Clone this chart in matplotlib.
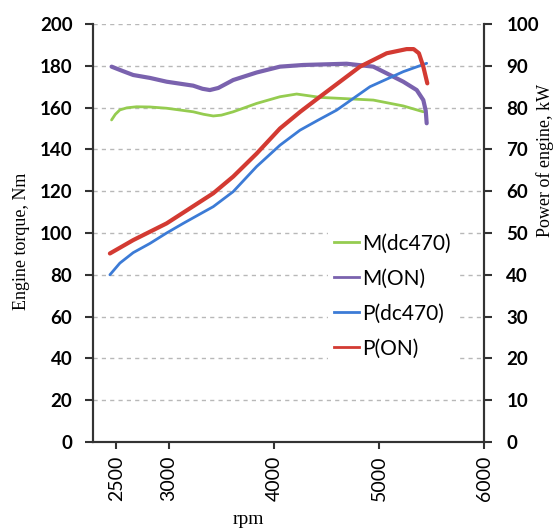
import matplotlib
matplotlib.use("Agg")
import matplotlib.pyplot as plt
from matplotlib.lines import Line2D

# ---- data ----
rpm_m_dc = [2454, 2490, 2533, 2600, 2692, 2820, 2978, 3231, 3330, 3422, 3500, 3612, 3835, 4057, 4216, 4438, 4755, 4946, 5231, 5422]
m_dc470 = [154.1, 156.8, 158.9, 159.9, 160.4, 160.3, 159.7, 158.0, 156.8, 156.0, 156.4, 158.0, 162.0, 165.2, 166.5, 164.9, 164.1, 163.6, 160.8, 158.0]

rpm_m_on = [2454, 2560, 2660, 2820, 2978, 3231, 3320, 3390, 3470, 3612, 3835, 4057, 4279, 4692, 4946, 5073, 5231, 5359, 5422, 5445, 5454]
m_on = [179.6, 177.5, 175.6, 174.2, 172.4, 170.5, 169.0, 168.4, 169.4, 173.2, 176.8, 179.6, 180.4, 181.0, 179.6, 176.4, 172.4, 168.4, 163.6, 158.5, 152.5]

rpm_p_dc = [2438, 2533, 2660, 2819, 2978, 3136, 3300, 3422, 3612, 3835, 4057, 4248, 4420, 4597, 4914, 5231, 5454]
p_dc470 = [40.0, 42.8, 45.3, 47.5, 50.0, 52.3, 54.6, 56.3, 59.9, 65.9, 71.0, 74.6, 77.0, 79.4, 85.0, 88.6, 90.6]

rpm_p_on = [2438, 2660, 2978, 3200, 3422, 3612, 3835, 4057, 4250, 4438, 4819, 5073, 5263, 5330, 5380, 5422, 5460]
p_on = [45.1, 48.3, 52.3, 55.9, 59.5, 63.5, 69.0, 75.0, 79.0, 82.6, 89.8, 93.0, 94.0, 94.0, 93.0, 89.8, 85.8]

x_ticks = [2500, 3000, 4000, 5000, 6000]
y_left_ticks = list(range(0, 201, 20))
y_right_ticks = list(range(0, 101, 10))
labels = ["M(dc470)", "M(ON)", "P(dc470)", "P(ON)"]

c_green = "#95CC50"
c_purple = "#7A62AE"
c_blue = "#3C7BD6"
c_red = "#D33A32"

fig = plt.figure(figsize=(5.57, 5.29), dpi=100)
ax = fig.add_axes([0.1675, 0.1645, 0.7015, 0.7901])
ax2 = ax.twinx()

ax.plot(rpm_m_dc, m_dc470, color=c_green, lw=2.0, solid_capstyle="round", solid_joinstyle="round")
ax.plot(rpm_m_on, m_on, color=c_purple, lw=3.0, solid_capstyle="round", solid_joinstyle="round")
ax2.plot(rpm_p_dc, p_dc470, color=c_blue, lw=2.0, solid_capstyle="round", solid_joinstyle="round")
ax2.plot(rpm_p_on, p_on, color=c_red, lw=3.0, solid_capstyle="round", solid_joinstyle="round")

ax.set_xlim(2280, 6000)
ax.set_ylim(0, 200)
ax2.set_ylim(0, 100)
ax.set_xticks(x_ticks)
ax.set_yticks(y_left_ticks)
ax2.set_yticks(y_right_ticks)

ax.grid(axis="y", color="#B8B8B8", linestyle=(0, (3, 3)), lw=1.0)
ax.set_axisbelow(True)

for a in (ax, ax2):
    a.spines["top"].set_visible(False)
    for s in ("left", "right", "bottom"):
        a.spines[s].set_color("#333333")
        a.spines[s].set_linewidth(1.5)

tick_font = dict(family="Lato", weight="bold", size=13.5)
ax.set_yticklabels([str(v) for v in y_left_ticks], **tick_font)
ax2.set_yticklabels([str(v) for v in y_right_ticks], **tick_font)
ax.set_xticklabels([str(v) for v in x_ticks], family="Lato", size=14, rotation=90)
ax.tick_params(axis="y", direction="out", length=6, width=1.5, color="#333333", pad=9)
ax.tick_params(axis="x", direction="out", length=5, width=1.5, color="#333333", pad=5)
ax2.tick_params(axis="y", direction="out", length=6, width=1.5, color="#333333", pad=10)

fig.text(22 / 557, 1 - 241 / 529, "Engine torque, Nm", family="Liberation Serif", size=13,
         rotation=90, ha="center", va="center")
fig.text(545 / 557, 1 - 160 / 529, "Power of engine, kW", family="Liberation Serif", size=13,
         rotation=90, ha="center", va="center")
fig.text(248 / 557, 1 - 520 / 529, "rpm", family="Liberation Serif", size=14,
         ha="center", va="center")

handles = [Line2D([], [], color=c, lw=2.0) for c in (c_green, c_purple, c_blue, c_red)]
leg = ax.legend(handles, labels, loc="center left",
                bbox_to_anchor=(328 / 557, 1 - 296 / 529), bbox_transform=fig.transFigure,
                borderaxespad=0, borderpad=0.3,
                frameon=True, handlelength=1.2, handletextpad=0.15,
                labelspacing=0.72,
                prop=dict(family="Lato", size=15))
leg.get_frame().set_edgecolor("none")
leg.get_frame().set_facecolor("white")
leg.get_frame().set_alpha(1.0)
leg.get_frame().set_boxstyle("square", pad=0)

fig.savefig("out.png", dpi=100)
